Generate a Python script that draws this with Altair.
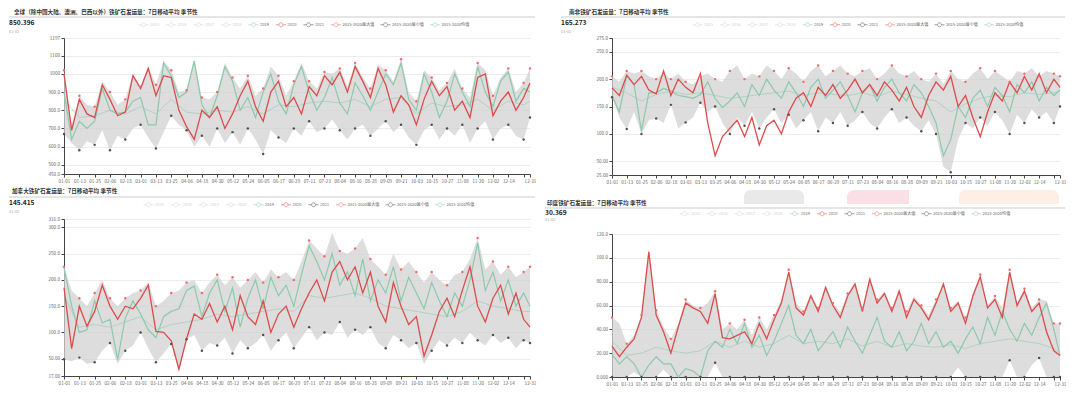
import json
import altair as alt
import pandas as pd

# ---------------- shared categories ----------------
DAYS = [0, 6, 12, 18, 24, 30, 36, 42, 48, 54, 60, 66, 72, 78, 84, 90, 96, 102, 108, 114,
        120, 126, 132, 138, 144, 150, 156, 162, 168, 174, 180, 186, 192, 198, 204, 210, 216, 222, 228, 234,
        240, 246, 252, 258, 264, 270, 276, 282, 288, 294, 300, 306, 312, 318, 324, 330, 336, 342, 348, 354,
        360, 365]
TICK_DAYS = [0, 12, 24, 36, 48, 60, 72, 84, 96, 108, 120, 132, 144, 156, 168, 180, 192, 204, 216, 228,
             240, 252, 264, 276, 288, 300, 312, 324, 336, 348, 360, 365]
TICK_LABELS = ["01-01", "01-13", "01-25", "02-06", "02-18", "03-01", "03-13", "03-25", "04-06", "04-18",
               "04-30", "05-12", "05-24", "06-05", "06-17", "06-29", "07-11", "07-23", "08-04", "08-16",
               "08-28", "09-09", "09-21", "10-03", "10-15", "10-27", "11-08", "11-20", "12-02", "12-14",
               "", "12-31"]
SERIES = ["2015", "2016", "2017", "2018", "2019", "2020", "2021",
          "2015-2020最大值", "2015-2020最小值", "2015-2020均值"]
COLORS = ["#d4d4d4", "#d4d4d4", "#d4d4d4", "#d4d4d4", "#8cc9ad", "#dd4b4b", "#3b4d5e",
          "#f06a6a", "#505050", "#8cc9ad"]
MAX_COLOR = "#f06a6a"
MIN_COLOR = "#505050"

# ---------------- panel 1: global ----------------
TL_TITLE = "全球（除中国大陆、澳洲、巴西以外）铁矿石发运量：7日移动平均 季节性"
TL_NUM = "850.396"
TL_2020 = [1000, 690, 860, 780, 760, 940, 860, 770, 790, 990,
           920, 1030, 880, 990, 980, 800, 710, 640, 800, 760,
           820, 700, 780, 880, 960, 820, 740, 900, 960, 820,
           870, 780, 930, 880, 990, 940, 1010, 900, 1040, 960,
           870, 1030, 940, 790, 880, 830, 720, 860, 960, 880,
           930, 800, 850, 760, 980, 1000, 770, 850, 900, 800,
           870, 950]
TL_2019 = [900, 640, 740, 700, 740, 920, 800, 780, 790, 850,
           870, 720, 720, 1060, 990, 870, 900, 1070, 830, 760,
           880, 1040, 960, 800, 870, 760, 900, 1000, 850, 780,
           940, 1040, 900, 800, 870, 980, 840, 780, 950, 880,
           800, 900, 1000, 940, 1060, 860, 800, 1000, 900, 760,
           850, 1000, 900, 820, 1040, 900, 820, 960, 1010, 850,
           920, 900]
TL_MAX = [1020, 720, 880, 830, 820, 960, 900, 830, 860, 1000,
          930, 1040, 940, 1070, 1020, 900, 910, 1080, 870, 860,
          900, 1060, 980, 920, 990, 880, 920, 1040, 990, 880,
          960, 1060, 960, 920, 1010, 1000, 1030, 930, 1060, 980,
          920, 1050, 1020, 960, 1080, 900, 850, 1020, 980, 910,
          950, 1030, 920, 870, 1060, 1020, 880, 980, 1030, 900,
          950, 1030]
TL_MIN = [670, 620, 580, 630, 610, 690, 580, 660, 640, 700,
          720, 650, 590, 680, 770, 720, 690, 600, 660, 600,
          700, 620, 680, 610, 700, 640, 560, 690, 650, 620,
          700, 660, 740, 680, 700, 750, 690, 640, 700, 720,
          660, 700, 740, 680, 720, 650, 610, 690, 720, 640,
          700, 660, 720, 620, 700, 740, 640, 700, 720, 660,
          640, 760]
TL_AVG = [860, 760, 770, 800, 780, 820, 780, 860, 790, 780,
          800, 790, 820, 780, 830, 820, 840, 850, 840, 860,
          820, 860, 870, 780, 840, 820, 830, 860, 800, 850,
          830, 850]
TL_YT = [450, 500, 600, 700, 800, 900, 1000, 1100, 1197]
TL_YL = ["450.0", "500.0", "600.0", "700.0", "800.0", "900.0", "1000", "1100", "1197"]

# ---------------- panel 2: South Africa ----------------
TR_TITLE = "南非铁矿石发运量：7日移动平均 季节性"
TR_NUM = "165.273"
TR_2020 = [184, 170, 207, 190, 205, 180, 173, 215, 170, 200,
           185, 175, 210, 120, 60, 95, 110, 125, 95, 130,
           80, 115, 125, 100, 140, 165, 175, 150, 185, 170,
           190, 165, 180, 200, 175, 190, 170, 195, 180, 160,
           185, 150, 130, 170, 195, 180, 205, 150, 170, 130,
           95, 140, 175, 160, 195, 175, 205, 180, 210, 175,
           200, 185]
TR_2019 = [170, 140, 207, 190, 105, 175, 175, 183, 178, 170,
           168, 165, 172, 195, 165, 148, 160, 175, 150, 190,
           170, 200, 180, 165, 195, 175, 150, 185, 200, 165,
           180, 195, 170, 140, 175, 190, 160, 185, 200, 175,
           160, 190, 175, 150, 120, 60, 90, 150, 130, 165,
           180, 150, 185, 170, 140, 190, 175, 195, 160, 185,
           170, 180]
TR_MAX = [205, 195, 215, 210, 215, 205, 200, 212, 200, 210,
          195, 190, 205, 210, 200, 195, 215, 225, 200, 210,
          205, 225, 215, 200, 220, 210, 195, 215, 225, 205,
          215, 225, 210, 205, 215, 220, 200, 210, 225, 210,
          205, 215, 200, 195, 210, 190, 215, 200, 195, 210,
          220, 200, 215, 205, 195, 215, 210, 220, 205, 215,
          210, 205]
TR_MIN = [167, 130, 109, 140, 100, 125, 128, 120, 153, 110,
          121, 130, 157, 140, 150, 120, 100, 130, 115, 140,
          110, 130, 145, 120, 135, 110, 125, 140, 105, 130,
          120, 140, 115, 125, 140, 120, 110, 130, 145, 120,
          130, 115, 105, 125, 100, 40, 30, 90, 120, 110,
          130, 115, 140, 125, 100, 135, 120, 145, 130, 140,
          120, 150]
TR_AVG = [185, 175, 160, 172, 178, 172, 175, 170, 165, 168,
          172, 175, 178, 170, 175, 172, 170, 175, 168, 178,
          172, 165, 160, 140, 155, 165, 170, 168, 175, 172,
          175, 178]
TR_YT = [25, 50, 100, 150, 200, 250, 275]
TR_YL = ["25.00", "50.00", "100.0", "150.0", "200.0", "250.0", "275.0"]

# ---------------- panel 3: Canada ----------------
BL_TITLE = "加拿大铁矿石发运量：7日移动平均 季节性"
BL_NUM = "145.415"
BL_2020 = [185, 69, 150, 112, 140, 190, 150, 125, 150, 145,
           165, 190, 102, 100, 84, 30, 88, 135, 125, 155,
           120, 150, 105, 170, 130, 115, 160, 100, 135, 150,
           110, 145, 175, 200, 160, 215, 235, 200, 225, 175,
           215, 150, 120, 195, 150, 115, 130, 55, 95, 140,
           165, 130, 180, 225, 150, 120, 165, 190, 135, 175,
           125, 110]
BL_2019 = [224, 150, 100, 105, 160, 118, 125, 48, 127, 160,
           135, 105, 90, 130, 140, 145, 180, 188, 130, 175,
           200, 140, 185, 110, 165, 200, 145, 205, 170, 190,
           150, 210, 265, 235, 200, 250, 190, 215, 170, 240,
           160, 200, 175, 225, 160, 205, 175, 145, 195, 160,
           130, 175, 150, 200, 270, 180, 215, 160, 200, 150,
           175, 150]
BL_MAX = [225, 180, 165, 150, 175, 200, 165, 150, 165, 175,
          180, 195, 150, 160, 175, 180, 195, 200, 175, 195,
          210, 190, 205, 185, 200, 215, 195, 220, 205, 215,
          200, 235, 275, 260, 245, 290, 255, 250, 260, 280,
          240, 225, 210, 250, 220, 235, 215, 195, 215, 200,
          190, 210, 215, 240, 280, 220, 235, 210, 225, 205,
          215, 225]
BL_MIN = [49, 45, 52, 40, 43, 65, 80, 40, 65, 75,
          100, 70, 43, 60, 78, 25, 87, 95, 65, 80,
          75, 90, 60, 85, 70, 80, 95, 65, 85, 100,
          70, 90, 110, 85, 100, 95, 120, 90, 105, 95,
          110, 80, 70, 95, 85, 70, 80, 40, 65, 85,
          75, 90, 80, 100, 85, 75, 95, 80, 90, 70,
          85, 80]
BL_AVG = [170, 110, 115, 110, 120, 130, 105, 115, 120, 125,
          135, 130, 135, 140, 145, 140, 170, 165, 170, 175,
          165, 150, 145, 140, 135, 130, 140, 160, 150, 145,
          140, 140]
BL_YT = [17, 50, 100, 150, 200, 250, 300, 316]
BL_YL = ["17.00", "50.00", "100.0", "150.0", "200.0", "250.0", "300.0", "316.0"]

# ---------------- panel 4: India ----------------
BR_TITLE = "印度铁矿石发运量：7日移动平均 季节性"
BR_NUM = "30.369"
BR_2020 = [26, 17, 25, 32, 50, 105, 52, 38, 20, 42,
           62, 58, 55, 45, 70, 33, 32, 35, 38, 28,
           45, 32, 48, 62, 88, 58, 52, 68, 55, 75,
           60, 50, 68, 78, 55, 82, 62, 70, 55, 72,
           50, 65, 58, 48, 62, 78, 55, 62, 45, 68,
           84, 58, 65, 50, 88, 60, 72, 55, 62, 38,
           22, 18]
BR_2019 = [19, 11, 17, 11, 0, 10, 17, 11, 11, 0,
           7, 5, 0, 22, 30, 25, 40, 28, 45, 25,
           35, 18, 30, 45, 60, 35, 28, 40, 22, 30,
           38, 25, 42, 30, 20, 35, 50, 30, 25, 38,
           22, 30, 45, 28, 38, 25, 30, 20, 32, 42,
           28, 50, 35, 55, 40, 30, 45, 35, 50, 62,
           40, 18]
BR_MAX = [50, 45, 28, 35, 52, 108, 56, 42, 32, 45,
          65, 60, 58, 62, 72, 40, 45, 40, 48, 35,
          50, 40, 52, 65, 90, 62, 55, 70, 58, 78,
          62, 55, 70, 80, 58, 84, 65, 72, 58, 74,
          55, 68, 60, 52, 65, 80, 58, 64, 50, 70,
          86, 60, 68, 58, 90, 62, 74, 58, 65, 64,
          45, 45]
BR_MIN = [0, 0, 0, 4, 0, 0, 0, 6, 0, 0,
          0, 0, 0, 0, 12, 0, 0, 0, 0, 0,
          0, 0, 0, 0, 0, 0, 0, 0, 0, 0,
          0, 0, 0, 0, 0, 0, 0, 0, 0, 0,
          0, 0, 0, 0, 0, 0, 0, 8, 0, 0,
          0, 0, 0, 0, 14, 0, 0, 10, 16, 0,
          0, 0]
BR_AVG = [30, 18, 20, 25, 22, 20, 22, 30, 25, 30,
          25, 28, 35, 28, 30, 28, 32, 26, 30, 25,
          28, 26, 25, 27, 24, 28, 30, 32, 30, 28,
          24, 20]
BR_YT = [0, 20, 40, 60, 80, 100, 120]
BR_YL = ["0.000", "20.00", "40.00", "60.00", "80.00", "100.0", "120.0"]

# decorative stamp shapes behind the India header (pixel offsets, not data)
DECOR_X = [132, 235, 347]
DECOR_X2 = [192, 297, 447]
DECOR_COL = ["#e9e9e9", "#fbdfe6", "#fdeee6"]

SYM = "M-1,0L-0.4,0M0.4,0L1,0M-0.4,0A0.4,0.4,0,1,0,0.4,0A0.4,0.4,0,1,0,-0.4,0Z"
FONT = "Noto Sans CJK SC"


def panel(title, num, y2019, y2020, vmax, vmin, avg, yt, yl, w, h,
          tx, nx, ty, ly, ny, dy, legx, legy, decor=False, topy=None):
    assert len(y2019) == len(DAYS) and len(y2020) == len(DAYS)
    assert len(vmax) == len(DAYS) and len(vmin) == len(DAYS) and len(avg) == len(TICK_DAYS)
    idx = [DAYS.index(d) for d in TICK_DAYS]
    band = pd.DataFrame({"day": DAYS, "lo": vmin, "hi": vmax})
    d19 = pd.DataFrame({"day": DAYS, "value": y2019, "series": "2019"})
    d20 = pd.DataFrame({"day": DAYS, "value": y2020, "series": "2020"})
    dav = pd.DataFrame({"day": TICK_DAYS, "value": avg, "series": "2015-2020均值"})
    dmx = pd.DataFrame({"day": TICK_DAYS, "value": [vmax[i] for i in idx]})
    dmn = pd.DataFrame({"day": TICK_DAYS, "value": [vmin[i] for i in idx]})

    xlab = "%s[indexof(%s, datum.value)]" % (json.dumps(TICK_LABELS), json.dumps(TICK_DAYS))
    ylab = "%s[indexof(%s, datum.value)]" % (json.dumps(yl), json.dumps(yt))
    xenc = alt.X("day:Q", scale=alt.Scale(domain=[0, 365], nice=False, zero=False),
                 axis=alt.Axis(values=TICK_DAYS, labelExpr=xlab, title=None, grid=False,
                               tickSize=3, labelFontSize=4.6, labelColor="#666666",
                               domainColor="#444444", tickColor="#444444", labelPadding=1,
                               labelOverlap=False, labelFlush=False))
    yscale = alt.Scale(domain=[yt[0], yt[-1]], nice=False, zero=False)
    yaxis = alt.Axis(values=yt, labelExpr=ylab, title=None, grid=True, gridColor="#ececec",
                     tickSize=3, labelFontSize=4.6, labelColor="#666666", domainColor="#444444",
                     tickColor="#444444", labelPadding=1.5)
    leg = alt.Legend(orient="none", legendX=legx, legendY=legy, direction="horizontal", title=None,
                     symbolType=SYM, symbolSize=100, symbolStrokeWidth=1, symbolFillColor="white",
                     labelFontSize=4.1, columnPadding=3.5, labelOffset=1, padding=0,
                     labelColor={"expr": "indexof(['2015','2016','2017','2018'], datum.label) >= 0 ? '#cfcfcf' : '#666666'"})
    cenc = alt.Color("series:N", scale=alt.Scale(domain=SERIES, range=COLORS), legend=leg)
    yv = alt.Y("value:Q", scale=yscale, axis=yaxis)

    area = alt.Chart(band).mark_area(color="#d2d2d2", opacity=0.75).encode(
        x=xenc, y=alt.Y("hi:Q", scale=yscale, axis=yaxis), y2="lo:Q")
    lavg = alt.Chart(dav).mark_line(strokeWidth=1, opacity=0.55).encode(x=xenc, y=yv, color=cenc)
    l19 = alt.Chart(d19).mark_line(strokeWidth=1.2).encode(x=xenc, y=yv, color=cenc)
    l20 = alt.Chart(d20).mark_line(strokeWidth=1.3).encode(x=xenc, y=yv, color=cenc)
    pmx = alt.Chart(dmx).mark_circle(size=6, color=MAX_COLOR, opacity=1).encode(x=xenc, y=yv)
    pmn = alt.Chart(dmn).mark_circle(size=6, color=MIN_COLOR, opacity=1).encode(x=xenc, y=yv)

    one = pd.DataFrame({"t": [title]})
    ttl = alt.Chart(one).mark_text(align="left", baseline="middle", fontSize=5.6, fontWeight="bold",
                                   color="#333333").encode(
        text="t:N", x=alt.value(tx), y=alt.value(ty))
    sep = alt.Chart(one).mark_rule(color="#dcdcdc", strokeWidth=1.5).encode(
        x=alt.value(nx), x2=alt.value(w + 5), y=alt.value(ly))
    nm = alt.Chart(pd.DataFrame({"t": [num]})).mark_text(
        align="left", baseline="middle", fontSize=6.6, fontWeight="bold", color="#222222").encode(
        text="t:N", x=alt.value(nx), y=alt.value(ny))
    dt = alt.Chart(pd.DataFrame({"t": ["01-02"]})).mark_text(
        align="left", baseline="middle", fontSize=4, color="#aaaaaa").encode(
        text="t:N", x=alt.value(nx), y=alt.value(dy))

    layers = []
    if decor:
        for i in range(len(DECOR_X)):
            layers.append(alt.Chart(one).mark_rect(color=DECOR_COL[i], cornerRadiusTopLeft=12,
                                                   cornerRadiusTopRight=8 if i != 1 else 0).encode(
                x=alt.value(DECOR_X[i]), x2=alt.value(DECOR_X2[i]),
                y=alt.value(topy), y2=alt.value(topy + 14)))
    layers += [area, lavg, l19, l20, pmx, pmn, sep, ttl, nm, dt]
    return alt.layer(*layers).properties(width=w, height=h)


p1 = panel(TL_TITLE, TL_NUM, TL_2019, TL_2020, TL_MAX, TL_MIN, TL_AVG, TL_YT, TL_YL,
           466, 136, -50, -55, -26, -21, -15, -6, 74, -19)
p3 = panel(BL_TITLE, BL_NUM, BL_2019, BL_2020, BL_MAX, BL_MIN, BL_AVG, BL_YT, BL_YL,
           466, 157, -52, -55, -28, -22, -16, -7, 79, -20)
p2 = panel(TR_TITLE, TR_NUM, TR_2019, TR_2020, TR_MAX, TR_MIN, TR_AVG, TR_YT, TR_YL,
           448, 137, -43, -51, -26, -21, -15, -6, 80, -19)
p4 = panel(BR_TITLE, BR_NUM, BR_2019, BR_2020, BR_MAX, BR_MIN, BR_AVG, BR_YT, BR_YL,
           448, 143, -65, -67, -31, -26, -21, -14, 67, -26, decor=True, topy=-44)

left = alt.vconcat(p1, p3, spacing=6).resolve_scale(color="independent").resolve_legend(color="independent")
right = alt.vconcat(p2, p4, spacing=6).resolve_scale(color="independent").resolve_legend(color="independent")
chart = (alt.hconcat(left, right, spacing=8)
         .resolve_scale(color="independent").resolve_legend(color="independent")
         .properties(padding={"top": 2, "left": 0, "right": 0, "bottom": 0})
         .configure(font=FONT)
         .configure_view(stroke=None))

chart.save("out.html", embed_options={"renderer": "svg", "actions": False})
